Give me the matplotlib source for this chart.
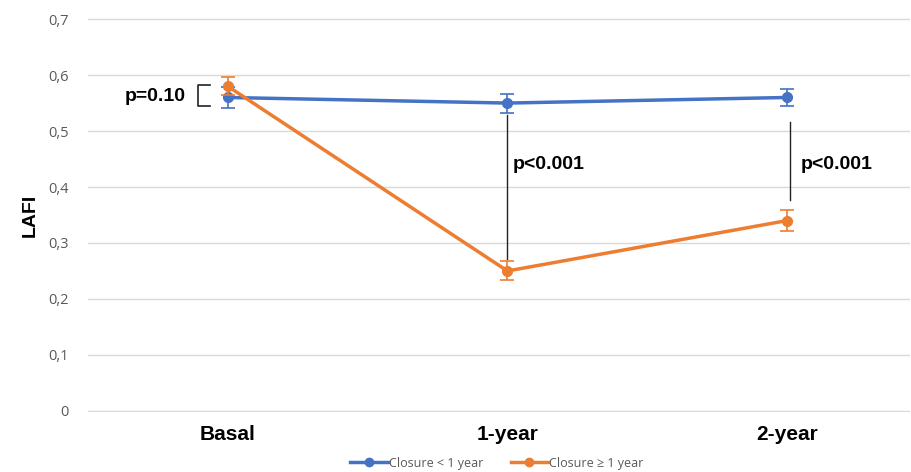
import matplotlib
matplotlib.use("Agg")
import matplotlib.pyplot as plt
from matplotlib.lines import Line2D

plt.rcParams["font.family"] = ["Liberation Sans", "DejaVu Sans"]

# data
categories = ["Basal", "1-year", "2-year"]
closure_lt = [0.56, 0.55, 0.56]
closure_lt_err = [0.019, 0.017, 0.016]
closure_ge = [0.58, 0.25, 0.34]
closure_ge_err = [0.016, 0.017, 0.019]
yticks = [0, 0.1, 0.2, 0.3, 0.4, 0.5, 0.6, 0.7]
ytick_labels = ["0", "0,1", "0,2", "0,3", "0,4", "0,5", "0,6", "0,7"]

blue = "#4472C4"
orange = "#ED7D31"

fig = plt.figure(figsize=(9.12, 4.72), dpi=100)
ax = fig.add_axes([88 / 912, 60 / 472, 822 / 912, 394 / 472])

x = list(range(len(categories)))
ax.errorbar(x, closure_lt, yerr=closure_lt_err, color=blue, lw=2.5, marker="o",
            ms=7, capsize=5, elinewidth=1.2, capthick=1.2, zorder=3)
ax.errorbar(x, closure_ge, yerr=closure_ge_err, color=orange, lw=2.5, marker="o",
            ms=7, capsize=5, elinewidth=1.2, capthick=1.2, zorder=4)

# significance markers
ax.plot([1, 1], [0.528, 0.272], color="#222222", lw=1)
ax.text(1.02, 0.44, "p<0.001", fontsize=14, fontweight="bold", va="center", ha="left")
ax.plot([2.01, 2.01], [0.517, 0.376], color="#222222", lw=1)
ax.text(2.05, 0.44, "p<0.001", fontsize=14, fontweight="bold", va="center", ha="left")
ax.plot([-0.065, -0.105, -0.105, -0.065], [0.582, 0.582, 0.545, 0.545], color="#222222", lw=1.2)
ax.text(-0.15, 0.562, "p=0.10", fontsize=14, fontweight="bold", va="center", ha="right")

ax.set_xlim(-0.5, 2.44)
ax.set_ylim(-0.002, 0.702)
ax.set_yticks(yticks)
ax.set_yticklabels(ytick_labels, color="#595959", fontsize=10.5, family=["Open Sans", "DejaVu Sans"])
ax.set_xticks(x)
ax.set_xticklabels(categories, fontsize=15, fontweight="bold")
ax.tick_params(axis="y", length=0, pad=14)
ax.tick_params(axis="x", length=0, pad=9)
ax.grid(axis="y", color="#D9D9D9", lw=1)
ax.set_axisbelow(True)
for s in ax.spines.values():
    s.set_visible(False)
fig.text(30 / 912, 1 - 215 / 472, "LAFI", fontsize=14, fontweight="bold",
         rotation=90, ha="center", va="center")

handles = [Line2D([], [], color=blue, lw=2.5, marker="o", ms=6),
           Line2D([], [], color=orange, lw=2.5, marker="o", ms=6)]
fig.legend(handles, ["Closure < 1 year", "Closure \u2265 1 year"], loc="center",
           bbox_to_anchor=(497 / 912, 1 - 463 / 472), ncol=2, frameon=False,
           fontsize=9, labelcolor="#595959", handlelength=3, columnspacing=2.2,
           handletextpad=0.1, prop={"family": ["Open Sans", "DejaVu Sans"], "size": 9})

fig.savefig("out.png", dpi=100)
